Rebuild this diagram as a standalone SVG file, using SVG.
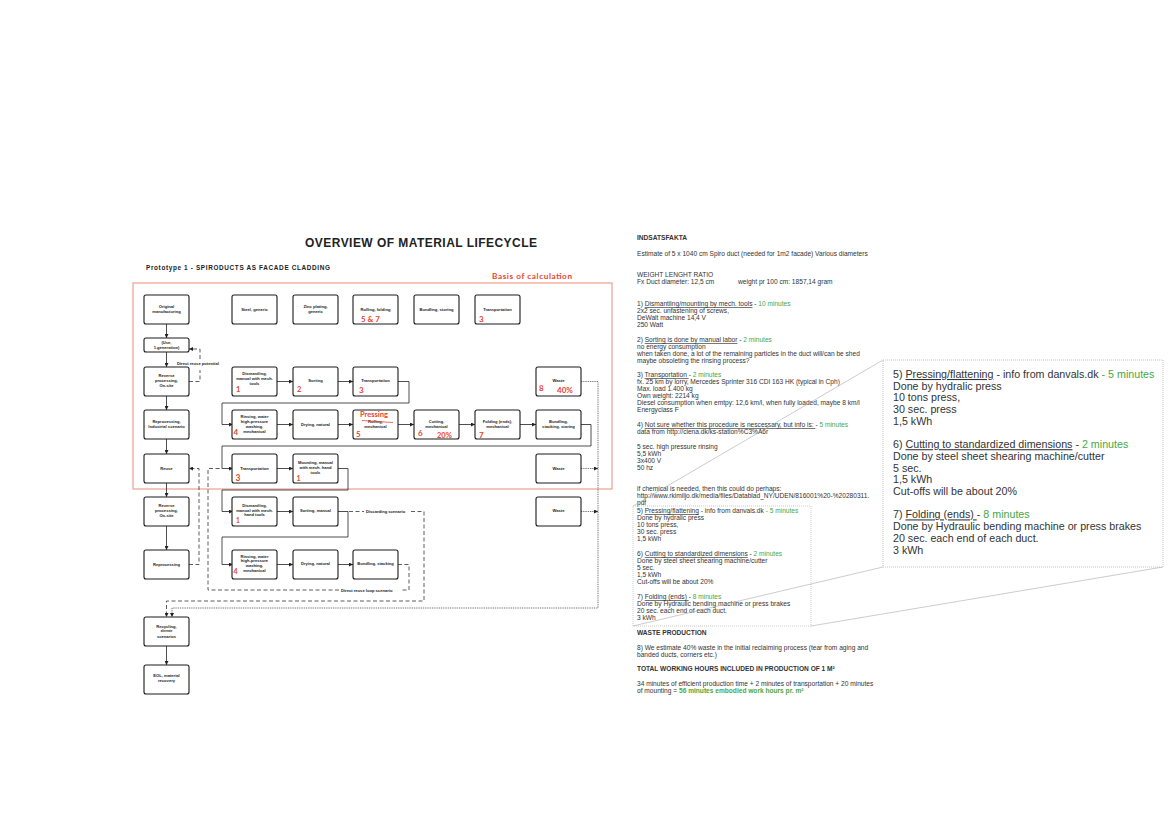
<svg xmlns="http://www.w3.org/2000/svg" width="1169" height="827" viewBox="0 0 1169 827">
<defs>
<style>
.bx{fill:#fff;stroke:#1a1a1a;stroke-width:1.1}
.t{font-family:"Liberation Sans",Arial,sans-serif;font-size:4.1px;font-weight:bold;fill:#1a1a1a;text-anchor:middle}
.r{font-family:Lato,"Open Sans","Liberation Sans",sans-serif;fill:#e8452c;font-weight:bold}
.c{fill:none;stroke:#222;stroke-width:0.8}
.d{fill:none;stroke:#333;stroke-width:0.8;stroke-dasharray:4 2.5}
.o{fill:none;stroke:#333;stroke-width:0.8;stroke-dasharray:0.9 0.9}
.s{font-family:"Liberation Sans",Arial,sans-serif;font-size:6.6px;fill:#333}
.b{font-family:"Liberation Sans",Arial,sans-serif;font-size:10.7px;fill:#333}
.g{fill:#47a847}
.u{text-decoration:underline}
.lbl{font-family:"Liberation Sans",Arial,sans-serif;font-size:4.1px;font-weight:bold;fill:#1a1a1a}
</style>
<marker id="ah" viewBox="0 0 6 6" refX="6" refY="3" markerWidth="4" markerHeight="4" markerUnits="userSpaceOnUse" orient="auto"><path d="M0,0 L6,3 L0,6z" fill="#222"/></marker>
</defs>
<rect width="1169" height="827" fill="#fff"/>

<text x="305" y="247" font-family="Liberation Sans,Arial,sans-serif" font-weight="bold" font-size="12" fill="#222" textLength="232">OVERVIEW OF MATERIAL LIFECYCLE</text>
<text x="146" y="270" font-family="Liberation Sans,Arial,sans-serif" font-weight="bold" font-size="6.4" fill="#222" textLength="184">Prototype 1  -  SPIRODUCTS AS FACADE CLADDING</text>
<text x="492" y="279" class="r" font-size="8.2" textLength="80">Basis of calculation</text>
<rect x="133" y="283" width="479" height="206" fill="none" stroke="#ef8a7c" stroke-width="1"/>

<g id="connectors">
<path class="c" d="M166.5 324V338" marker-end="url(#ah)"/>
<path class="c" d="M166.5 352V367" marker-end="url(#ah)"/>
<path class="c" d="M166.5 396V410" marker-end="url(#ah)"/>
<path class="c" d="M166.5 439V454" marker-end="url(#ah)"/>
<path class="c" d="M166.5 483V497" marker-end="url(#ah)"/>
<path class="c" d="M166.5 526V550" marker-end="url(#ah)"/>
<path class="c" d="M166.5 646V665" marker-end="url(#ah)"/>
<path class="c" d="M277 381.5H293" marker-end="url(#ah)"/>
<path class="c" d="M338 381.5H353" marker-end="url(#ah)"/>
<path class="c" d="M398 381.5H409V403H222V424.5H233" marker-end="url(#ah)"/>
<path class="c" d="M277 424.5H293" marker-end="url(#ah)"/>
<path class="c" d="M338 424.5H353" marker-end="url(#ah)"/>
<path class="c" d="M398 424.5H414" marker-end="url(#ah)"/>
<path class="c" d="M459 424.5H475" marker-end="url(#ah)"/>
<path class="c" d="M520 424.5H536" marker-end="url(#ah)"/>
<path class="c" d="M581 424.5H591V446H222V468.5H233" marker-end="url(#ah)"/>
<path class="c" d="M277 468.5H293" marker-end="url(#ah)"/>
<path class="c" d="M338 468.5H348V490H222V511.5H233" marker-end="url(#ah)"/>
<path class="c" d="M277 511.5H293" marker-end="url(#ah)"/>
<path class="c" d="M338 511.5H348V537H222V564.5H233" marker-end="url(#ah)"/>
<path class="c" d="M277 564.5H293" marker-end="url(#ah)"/>
<path class="c" d="M338 564.5H353" marker-end="url(#ah)"/>
<path class="d" d="M189 381.5H200V370"/>
<path class="d" d="M200 359V349H189" marker-end="url(#ah)"/>
<text class="lbl" x="177" y="364.5">Direct reuse potential</text>
<path class="d" d="M189 564.5H199V468.5H189" marker-end="url(#ah)"/>
<path class="d" d="M398 564.5H409V590H402"/>
<text class="lbl" x="341" y="591.5">Direct reuse loop scenario</text>
<path class="d" d="M339 590H208V468.5H222"/>
<path class="d" d="M349 511.5H364"/>
<text class="lbl" x="366" y="513">Discarding scenario</text>
<path class="d" d="M411 511.5H424V601H166.5V617" marker-end="url(#ah)"/>
<path class="o" d="M581 381.5H598V608H172V617" marker-end="url(#ah)"/>
<path class="o" d="M581 468.5H598" marker-end="url(#ah)"/>
<path class="o" d="M581 511.5H598" marker-end="url(#ah)"/>
</g>

<g id="n-original"><rect class="bx" x="144" y="295" width="45" height="29" rx="2"/><text class="t"><tspan x="166.5" y="307.5">Original</tspan><tspan x="166.5" y="312.5">manufacturing</tspan></text></g>
<g id="n-use"><rect class="bx" x="144" y="338" width="45" height="14" rx="2"/><text class="t"><tspan x="166.5" y="344.3">(Use,</tspan><tspan x="166.5" y="349.3">1.generation)</tspan></text></g>
<g id="n-reverse1"><rect class="bx" x="144" y="367" width="45" height="29" rx="2"/><text class="t"><tspan x="166.5" y="376.5">Reverse</tspan><tspan x="166.5" y="381.5">processing,</tspan><tspan x="166.5" y="386.5">On-site</tspan></text></g>
<g id="n-reproc1"><rect class="bx" x="144" y="410" width="45" height="29" rx="2"/><text class="t"><tspan x="166.5" y="423">Reprocessing,</tspan><tspan x="166.5" y="428">Industrial scenario</tspan></text></g>
<g id="n-reuse"><rect class="bx" x="144" y="454" width="45" height="29" rx="2"/><text class="t" x="166.5" y="469.5">Reuse</text></g>
<g id="n-reverse2"><rect class="bx" x="144" y="497" width="45" height="29" rx="2"/><text class="t"><tspan x="166.5" y="506.5">Reverse</tspan><tspan x="166.5" y="511.5">processing,</tspan><tspan x="166.5" y="516.5">On-site</tspan></text></g>
<g id="n-reproc2"><rect class="bx" x="144" y="550" width="45" height="29" rx="2"/><text class="t" x="166.5" y="566">Reprocessing</text></g>
<g id="n-recycling"><rect class="bx" x="144" y="617" width="45" height="29" rx="2"/><text class="t"><tspan x="166.5" y="628">Recycling,</tspan><tspan x="166.5" y="632" font-size="2.8">alternate</tspan><tspan x="166.5" y="637.5">scenarios</tspan></text></g>
<g id="n-eol"><rect class="bx" x="144" y="665" width="45" height="29" rx="2"/><text class="t"><tspan x="166.5" y="676.5">EOL, material</tspan><tspan x="166.5" y="681.5">recovery</tspan></text></g>

<g id="n-steel"><rect class="bx" x="232" y="295" width="45" height="29" rx="2"/><text class="t" x="254.5" y="311">Steel, generic</text></g>
<g id="n-zinc"><rect class="bx" x="293" y="295" width="45" height="29" rx="2"/><text class="t"><tspan x="315.5" y="307.5">Zinc plating,</tspan><tspan x="315.5" y="312.5">generic</tspan></text></g>
<g id="n-rolling"><rect class="bx" x="353" y="295" width="45" height="29" rx="2"/><text class="t" x="375.5" y="310.5">Rolling, folding</text><text class="r" x="361" y="321.5" font-size="8">5 &amp; 7</text></g>
<g id="n-bundling1"><rect class="bx" x="414" y="295" width="45" height="29" rx="2"/><text class="t" x="436.5" y="311">Bundling, storing</text></g>
<g id="n-transport0"><rect class="bx" x="475" y="295" width="45" height="29" rx="2"/><text class="t" x="497.5" y="310.5">Transportation</text><text class="r" x="479" y="322" font-size="8">3</text></g>

<g id="n-dism1"><rect class="bx" x="232" y="367" width="45" height="29" rx="2"/><text class="t"><tspan x="254.5" y="375">Dismantling,</tspan><tspan x="254.5" y="380">manual with mech.</tspan><tspan x="254.5" y="385">tools</tspan></text><text class="r" x="236" y="392" font-size="7.5">1</text></g>
<g id="n-sorting1"><rect class="bx" x="293" y="367" width="45" height="29" rx="2"/><text class="t" x="315.5" y="381.5">Sorting</text><text class="r" x="297" y="392" font-size="7.5">2</text></g>
<g id="n-transport1"><rect class="bx" x="353" y="367" width="45" height="29" rx="2"/><text class="t" x="375.5" y="381.5">Transportation</text><text class="r" x="359" y="392.5" font-size="8">3</text></g>
<g id="n-waste1"><rect class="bx" x="536" y="367" width="45" height="29" rx="2"/><text class="t" x="558.5" y="381.5">Waste</text><text class="r" x="539" y="390.5" font-size="8">8</text><text class="r" x="557" y="392.5" font-size="8">40%</text></g>

<g id="n-rinsing1"><rect class="bx" x="232" y="410" width="45" height="29" rx="2"/><text class="t"><tspan x="254.5" y="417.5">Rinsing, water</tspan><tspan x="254.5" y="422.5">high-pressure</tspan><tspan x="254.5" y="427.5">washing,</tspan><tspan x="254.5" y="432.5">mechanical</tspan></text><text class="r" x="233.5" y="435" font-size="8">4</text></g>
<g id="n-drying1"><rect class="bx" x="293" y="410" width="45" height="29" rx="2"/><text class="t" x="315.5" y="425.5">Drying, natural</text></g>
<g id="n-pressing"><rect class="bx" x="353" y="410" width="45" height="29" rx="2"/><text class="r" x="360" y="417" font-size="7.5">Pressing</text><text class="t"><tspan x="375.5" y="422.5">Rolling,</tspan><tspan x="375.5" y="427.5">mechanical</tspan></text><path d="M362 420.5L393 422.5" stroke="#e8452c" stroke-width="0.8"/><text class="r" x="356" y="437" font-size="8">5</text></g>
<g id="n-cutting"><rect class="bx" x="414" y="410" width="45" height="29" rx="2"/><text class="t"><tspan x="436.5" y="423">Cutting,</tspan><tspan x="436.5" y="428">mechanical</tspan></text><text class="r" x="418" y="436" font-size="8">6</text><text class="r" x="437" y="438" font-size="7.5">20%</text></g>
<g id="n-folding"><rect class="bx" x="475" y="410" width="45" height="29" rx="2"/><text class="t"><tspan x="497.5" y="423">Folding (ends),</tspan><tspan x="497.5" y="428">mechanical</tspan></text><text class="r" x="479" y="438" font-size="8">7</text></g>
<g id="n-bundling2"><rect class="bx" x="536" y="410" width="45" height="29" rx="2"/><text class="t"><tspan x="558.5" y="423">Bundling,</tspan><tspan x="558.5" y="428">stacking, storing</tspan></text></g>

<g id="n-transport2"><rect class="bx" x="232" y="454" width="45" height="29" rx="2"/><text class="t" x="254.5" y="469.5">Transportation</text><text class="r" x="235.5" y="481" font-size="8.5">3</text></g>
<g id="n-mounting"><rect class="bx" x="293" y="454" width="45" height="29" rx="2"/><text class="t"><tspan x="315.5" y="464">Mounting, manual</tspan><tspan x="315.5" y="469">with mech. hand</tspan><tspan x="315.5" y="474">tools</tspan></text><text class="r" x="296.5" y="481" font-size="7">1</text></g>
<g id="n-waste2"><rect class="bx" x="536" y="454" width="45" height="29" rx="2"/><text class="t" x="558.5" y="469.5">Waste</text></g>

<g id="n-dism2"><rect class="bx" x="232" y="497" width="45" height="29" rx="2"/><text class="t"><tspan x="254.5" y="506.5">Dismantling,</tspan><tspan x="254.5" y="511.5">manual with mech.</tspan><tspan x="254.5" y="516">hand tools</tspan></text><text class="r" x="236" y="522.5" font-size="6.5">1</text></g>
<g id="n-sorting2"><rect class="bx" x="293" y="497" width="45" height="29" rx="2"/><text class="t" x="315.5" y="511.5">Sorting, manual</text></g>
<g id="n-waste3"><rect class="bx" x="536" y="497" width="45" height="29" rx="2"/><text class="t" x="558.5" y="511.5">Waste</text></g>

<g id="n-rinsing2"><rect class="bx" x="232" y="550" width="45" height="29" rx="2"/><text class="t"><tspan x="254.5" y="557.5">Rinsing, water</tspan><tspan x="254.5" y="562">high-pressure</tspan><tspan x="254.5" y="566.5">washing,</tspan><tspan x="254.5" y="571.5">mechanical</tspan></text><text class="r" x="233.5" y="574" font-size="7">4</text></g>
<g id="n-drying2"><rect class="bx" x="293" y="550" width="45" height="29" rx="2"/><text class="t" x="315.5" y="565">Drying, natural</text></g>
<g id="n-bundling3"><rect class="bx" x="353" y="550" width="45" height="29" rx="2"/><text class="t" x="375.5" y="565">Bundling, stacking</text></g>

<g id="notes">
<text class="s" x="637" y="240" font-weight="bold">INDSATSFAKTA</text>
<text class="s" x="637" y="256">Estimate of 5 x 1040 cm Spiro duct (needed for 1m2 facade) Various diameters</text>
<text class="s" x="637" y="277">WEIGHT LENGHT RATIO</text>
<text class="s" x="637" y="284">Fx Duct diameter: 12,5 cm</text>
<text class="s" x="738" y="284">weight pr 100 cm: 1857,14 gram</text>
<text class="s" x="637" y="306">1) <tspan class="u">Dismantling/mounting by mech. tools</tspan> - <tspan class="g">10 minutes</tspan></text>
<text class="s" x="637" y="313">2x2 sec. unfastening of screws,</text>
<text class="s" x="637" y="320">DeWalt machine 14,4 V</text>
<text class="s" x="637" y="327">250 Watt</text>
<text class="s" x="637" y="342">2) <tspan class="u">Sorting is done by manual labor</tspan> - <tspan class="g">2 minutes</tspan></text>
<text class="s" x="637" y="349">no energy consumption</text>
<text class="s" x="637" y="356">when taken done, a lot of the remaining particles in the duct will/can be shed</text>
<text class="s" x="637" y="363">maybe obsoleting the rinsing process?</text>
<text class="s" x="637" y="377">3) <tspan class="u">Transportation </tspan>- <tspan class="g">2 minutes</tspan></text>
<text class="s" x="637" y="384">fx. 25 km by lorry, Mercedes Sprinter 316 CDI 163 HK (typical in Cph)</text>
<text class="s" x="637" y="391">Max. load 1.400 kg</text>
<text class="s" x="637" y="398">Own weight: 2214 kg</text>
<text class="s" x="637" y="405">Diesel consumption when emtpy: 12,6 km/l, when fully loaded, maybe 8 km/l</text>
<text class="s" x="637" y="412">Energyclass F</text>
<text class="s" x="637" y="427">4) <tspan class="u">Not sure whether this procedure is nescessary, but info is: </tspan>- <tspan class="g">5 minutes</tspan></text>
<text class="s" x="637" y="434">data from http://ciena.dk/ks-station%C3%A6r</text>
<text class="s" x="637" y="449">5 sec. high pressure rinsing</text>
<text class="s" x="637" y="456">5,5 kWh</text>
<text class="s" x="637" y="463">3x400 V</text>
<text class="s" x="637" y="470">50 hz</text>
<text class="s" x="637" y="491">if chemical is needed, then this could do perhaps:</text>
<text class="s" x="637" y="498">http://www.rkimiljo.dk/media/files/Datablad_NY/UDEN/816001%20-%20280311.</text>
<text class="s" x="637" y="505">pdf</text>
<rect x="633" y="506" width="178" height="120" fill="none" stroke="#aaa" stroke-width="0.6" stroke-dasharray="1 1"/>
<text class="s" x="637" y="513">5) <tspan class="u">Pressing/flattening</tspan> - info from danvals.dk <tspan class="g">- 5 minutes</tspan></text>
<text class="s" x="637" y="520">Done by hydralic press</text>
<text class="s" x="637" y="527">10 tons press,</text>
<text class="s" x="637" y="534">30 sec. press</text>
<text class="s" x="637" y="541">1,5 kWh</text>
<text class="s" x="637" y="556">6) <tspan class="u">Cutting to standardized dimensions</tspan> - <tspan class="g">2 minutes</tspan></text>
<text class="s" x="637" y="563">Done by steel sheet shearing machine/cutter</text>
<text class="s" x="637" y="570">5 sec.</text>
<text class="s" x="637" y="577">1,5 kWh</text>
<text class="s" x="637" y="584">Cut-offs will be about 20%</text>
<text class="s" x="637" y="599">7) <tspan class="u">Folding (ends) </tspan>- <tspan class="g">8 minutes</tspan></text>
<text class="s" x="637" y="606">Done by Hydraulic bending machine or press brakes</text>
<text class="s" x="637" y="613">20 sec. each end of each duct.</text>
<text class="s" x="637" y="620">3 kWh</text>
<text class="s" x="637" y="635" font-weight="bold">WASTE PRODUCTION</text>
<text class="s" x="637" y="650">8) We estimate 40% waste in the initial reclaiming process (tear from aging and</text>
<text class="s" x="637" y="657">banded ducts, corners etc.)</text>
<text class="s" x="637" y="671" font-weight="bold">TOTAL WORKING HOURS INCLUDED IN PRODUCTION OF 1 M²</text>
<text class="s" x="637" y="686">34 minutes of efficient production time + 2 minutes of transportation + 20 minutes</text>
<text class="s" x="637" y="693">of mounting = <tspan class="g" font-weight="bold">56 minutes embodied work hours pr. m²</tspan></text>
</g>

<g id="zoom-lines" stroke="#aaa" stroke-width="0.6" fill="none">
<path d="M633 506L883 360"/>
<path d="M633 626L883 567"/>
<path d="M811 626L1163 567"/>
</g>

<g id="zoom-box">
<rect x="883" y="360" width="280" height="207" fill="#fff" stroke="#aaa" stroke-width="0.7" stroke-dasharray="1 1"/>
<text class="b" x="893" y="378">5) <tspan class="u">Pressing/flattening</tspan> - info from danvals.dk <tspan class="g">- 5 minutes</tspan></text>
<text class="b" x="893" y="389.7">Done by hydralic press</text>
<text class="b" x="893" y="401.4">10 tons press,</text>
<text class="b" x="893" y="413.1">30 sec. press</text>
<text class="b" x="893" y="424.8">1,5 kWh</text>
<text class="b" x="893" y="448.2">6) <tspan class="u">Cutting to standardized dimensions</tspan> - <tspan class="g">2 minutes</tspan></text>
<text class="b" x="893" y="459.9">Done by steel sheet shearing machine/cutter</text>
<text class="b" x="893" y="471.6">5 sec.</text>
<text class="b" x="893" y="483.3">1,5 kWh</text>
<text class="b" x="893" y="495">Cut-offs will be about 20%</text>
<text class="b" x="893" y="518.4">7) <tspan class="u">Folding (ends) </tspan>- <tspan class="g">8 minutes</tspan></text>
<text class="b" x="893" y="530.1">Done by Hydraulic bending machine or press brakes</text>
<text class="b" x="893" y="541.8">20 sec. each end of each duct.</text>
<text class="b" x="893" y="553.5">3 kWh</text>
</g>
</svg>
